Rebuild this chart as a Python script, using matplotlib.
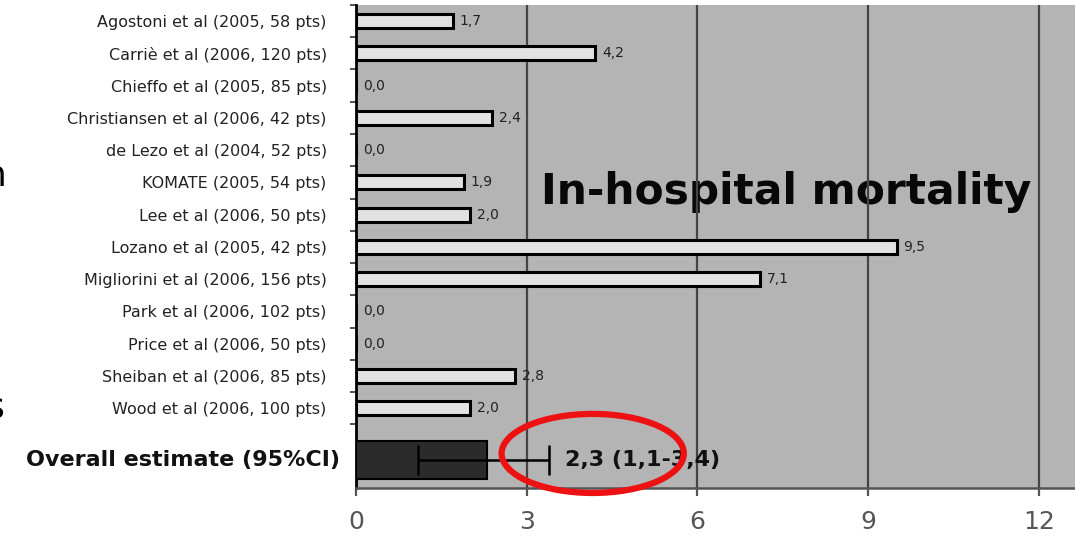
import numpy as np
import matplotlib
matplotlib.use("Agg")
import matplotlib.pyplot as plt
from matplotlib.patches import Ellipse

# study data (in-hospital mortality, %)
studies = ["Agostoni et al (2005, 58 pts)", "Carriè et al (2006, 120 pts)",
           "Chieffo et al (2005, 85 pts)", "Christiansen et al (2006, 42 pts)",
           "de Lezo et al (2004, 52 pts)", "KOMATE (2005, 54 pts)",
           "Lee et al (2006, 50 pts)", "Lozano et al (2005, 42 pts)",
           "Migliorini et al (2006, 156 pts)", "Park et al (2006, 102 pts)",
           "Price et al (2006, 50 pts)", "Sheiban et al (2006, 85 pts)",
           "Wood et al (2006, 100 pts)"]
mortality = [1.7, 4.2, 0.0, 2.4, 0.0, 1.9, 2.0, 9.5, 7.1, 0.0, 0.0, 2.8, 2.0]
overall_label = "Overall estimate (95%CI)"
overall = 2.3
overall_ci = (1.1, 3.4)
xticks = [0, 3, 6, 9, 12]


def fmt(v):
    return ("%.1f" % v).replace(".", ",")


fig = plt.figure(figsize=(10.75, 5.41), dpi=100)
ax = fig.add_axes([0.331, 0.098, 0.669, 0.893])
ax.set_facecolor("#b4b4b4")

ypos = np.arange(len(studies))
y_over = len(studies) + 0.6

ax.barh(ypos, mortality, height=0.43, color="#e2e2e2", edgecolor="black", linewidth=2.2, zorder=3)
ax.barh(y_over, overall, height=1.2, color="#2b2b2b", edgecolor="black", linewidth=1.5, zorder=3)
ax.errorbar(overall, y_over, xerr=[[overall - overall_ci[0]], [overall_ci[1] - overall]],
            fmt="none", ecolor="black", elinewidth=1.8, capsize=11, capthick=1.8, zorder=4)

for y, v in zip(ypos, mortality):
    ax.text(v + 0.12, y, fmt(v), va="center", ha="left",
            fontsize=10, color="#222222", zorder=5)
ax.text(overall_ci[1] + 0.27, y_over, "%s (%s-%s)" % (fmt(overall), fmt(overall_ci[0]), fmt(overall_ci[1])),
        va="center", ha="left", fontsize=16, fontweight="bold", color="#111111", zorder=5)

ax.set_xlim(0, 12.63)
ax.set_ylim(y_over + 0.87, -0.5)
ax.set_xticks(xticks)
ax.set_xticklabels([str(t) for t in xticks], fontsize=18, color="#555555")
ax.tick_params(axis="x", length=6, width=1.6, color="#555555", pad=10)
ax.grid(axis="x", color="#444444", linewidth=1.6, zorder=1)

ax.set_yticks(ypos)
ax.set_yticklabels(studies, fontsize=11.5, color="#222222")
ax.tick_params(axis="y", length=0, pad=21)
ax.set_yticks(np.arange(len(studies) + 1) - 0.5, minor=True)
ax.tick_params(axis="y", which="minor", length=4, width=1.2, color="#333333")
ax.annotate(overall_label, xy=(0, y_over), xycoords=("axes fraction", "data"),
            xytext=(-16, 0), textcoords="offset pixels", ha="right", va="center",
            fontsize=16, fontweight="bold", color="#111111")

for s in ["top", "right"]:
    ax.spines[s].set_visible(False)
ax.spines["left"].set_color("black")
ax.spines["left"].set_linewidth(2)
ax.spines["bottom"].set_color("#555555")
ax.spines["bottom"].set_linewidth(1.8)

ax.text(7.55, 5.3, "In-hospital mortality", fontsize=30.5, fontweight="bold",
        ha="center", va="center", color="#080808", zorder=0.5)

ax.add_patch(Ellipse((4.16, y_over - 0.2), 3.2, 2.45, fill=False, edgecolor="#ee1111",
                     linewidth=4.5, zorder=7, clip_on=False))

# cut-off slide text at the left edge
fig.text(7 / 1075, 1 - 176 / 541, "n", fontsize=26, ha="right", va="center")
fig.text(5 / 1075, 1 - 408 / 541, "s", fontsize=26, ha="right", va="center")

fig.savefig("out.png", dpi=100)
